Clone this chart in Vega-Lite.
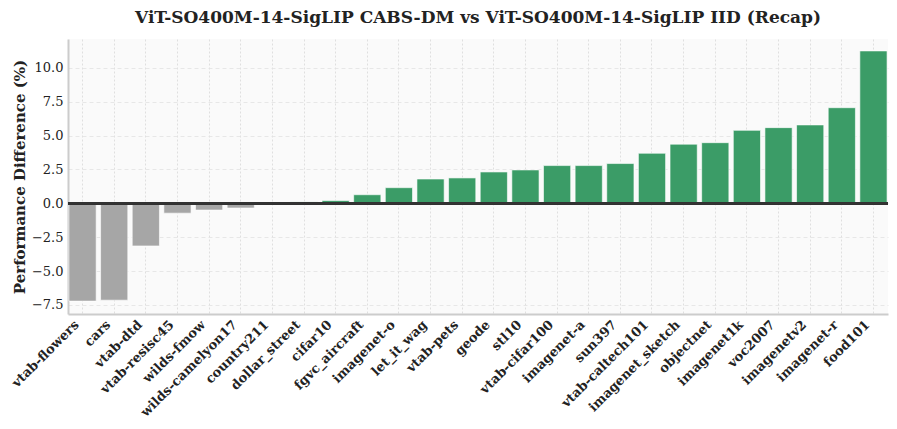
{
  "$schema": "https://vega.github.io/schema/vega-lite/v6.json",
  "autosize": {"type": "none"},
  "width": 820,
  "height": 275,
  "padding": {"left": 68, "top": 39, "right": 9, "bottom": 115},
  "background": "#ffffff",
  "config": {
    "view": {"fill": "#fafafa", "stroke": null},
    "font": "DejaVu Serif",
    "axis": {"labelOverlap": false},
    "axisY": {"labelOverlap": false, "labelFlush": false}
  },
  "title": {
    "text": "ViT-SO400M-14-SigLIP CABS-DM vs ViT-SO400M-14-SigLIP IID (Recap)",
    "font": "DejaVu Serif",
    "fontSize": 17,
    "fontWeight": "bold",
    "color": "#222222",
    "anchor": "middle",
    "offset": 12
  },
  "data": {
    "values": [
      {"dataset": "vtab-flowers", "diff": -7.22},
      {"dataset": "cars", "diff": -7.15},
      {"dataset": "vtab-dtd", "diff": -3.15},
      {"dataset": "vtab-resisc45", "diff": -0.73},
      {"dataset": "wilds-fmow", "diff": -0.5},
      {"dataset": "wilds-camelyon17", "diff": -0.35},
      {"dataset": "country211", "diff": -0.02},
      {"dataset": "dollar_street", "diff": 0.1},
      {"dataset": "cifar10", "diff": 0.2},
      {"dataset": "fgvc_aircraft", "diff": 0.63},
      {"dataset": "imagenet-o", "diff": 1.15},
      {"dataset": "let_it_wag", "diff": 1.79},
      {"dataset": "vtab-pets", "diff": 1.87},
      {"dataset": "geode", "diff": 2.31},
      {"dataset": "stl10", "diff": 2.46},
      {"dataset": "vtab-cifar100", "diff": 2.78},
      {"dataset": "imagenet-a", "diff": 2.78},
      {"dataset": "sun397", "diff": 2.93},
      {"dataset": "vtab-caltech101", "diff": 3.69},
      {"dataset": "imagenet_sketch", "diff": 4.36},
      {"dataset": "objectnet", "diff": 4.47},
      {"dataset": "imagenet1k", "diff": 5.38},
      {"dataset": "voc2007", "diff": 5.58},
      {"dataset": "imagenetv2", "diff": 5.78},
      {"dataset": "imagenet-r", "diff": 7.05},
      {"dataset": "food101", "diff": 11.24}
    ]
  },
  "encoding": {
    "x": {
      "field": "dataset",
      "type": "nominal",
      "sort": null,
      "scale": {"paddingInner": 0.14, "paddingOuter": 0.03},
      "axis": {
        "title": null,
        "labelAngle": -45,
        "labelAlign": "right",
        "labelBaseline": "top",
        "labelFont": "DejaVu Serif",
        "labelFontWeight": "bold",
        "labelFontSize": 13,
        "labelColor": "#222222",
        "labelPadding": 4,
        "labelOffset": -10,
        "labelOverlap": false,
        "ticks": false,
        "domainColor": "#cccccc",
        "domainWidth": 2,
        "grid": true,
        "gridColor": "#d8d8d8",
        "gridDash": [2, 2],
        "gridWidth": 0.8
      }
    }
  },
  "layer": [
    {
      "mark": {"type": "bar", "stroke": "#ffffff", "strokeWidth": 1, "strokeOpacity": 0.6},
      "encoding": {
        "y": {
          "field": "diff",
          "type": "quantitative",
          "scale": {"domain": [-8.17, 12.12], "nice": false, "zero": false},
          "axis": {
            "title": "Performance Difference (%)",
            "titleFont": "DejaVu Serif",
            "titleFontWeight": "bold",
            "titleFontSize": 15,
            "titleColor": "#222222",
            "titlePadding": 4,
            "values": [-7.5, -5.0, -2.5, 0.0, 2.5, 5.0, 7.5, 10.0],
            "tickCount": 8,
            "format": ".1f",
            "labelFont": "DejaVu Serif",
            "labelFontSize": 13,
            "labelColor": "#222222",
            "labelPadding": 5,
            "labelOverlap": false,
            "labelFlush": false,
            "ticks": false,
            "domainColor": "#cccccc",
            "domainWidth": 2,
            "grid": true,
            "gridColor": "#e2e2e2",
            "gridDash": [4, 3],
            "gridWidth": 0.8
          }
        },
        "color": {
          "condition": {"test": "datum.diff < 0", "value": "#a6a6a6"},
          "value": "#3b9c67"
        }
      }
    },
    {
      "mark": {"type": "rule", "color": "#333333", "strokeWidth": 2},
      "encoding": {"y": {"datum": 0}, "x": {"value": 0}, "x2": {"value": 820}}
    }
  ]
}
